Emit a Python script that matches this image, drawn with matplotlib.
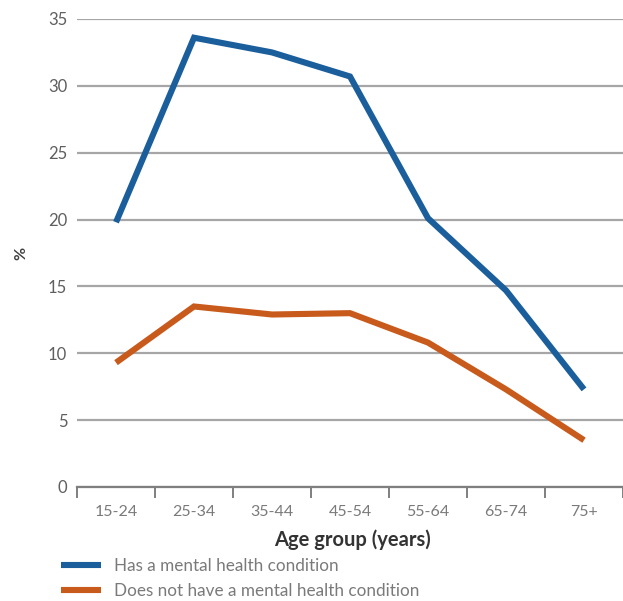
import numpy as np
import matplotlib.pyplot as plt

plt.rcParams['font.family'] = ['Lato', 'DejaVu Sans']

age_groups = ['15-24', '25-34', '35-44', '45-54', '55-64', '65-74', '75+']
has_condition = [19.8, 33.6, 32.5, 30.7, 20.1, 14.7, 7.3]
no_condition = [9.3, 13.5, 12.9, 13.0, 10.8, 7.3, 3.5]

blue = '#1b5e9c'
orange = '#c85a1c'

fig = plt.figure(figsize=(6.23, 6.01), dpi=100)
ax = fig.add_axes([0.1236, 0.1897, 0.8764, 0.7787])

x = np.arange(len(age_groups))
ax.plot(x, has_condition, color=blue, lw=4.4, solid_joinstyle='miter', solid_capstyle='butt',
        label='Has a mental health condition', zorder=3)
ax.plot(x, no_condition, color=orange, lw=4.4, solid_joinstyle='miter', solid_capstyle='butt',
        label='Does not have a mental health condition', zorder=3)

ax.set_ylim(0, 35)
ax.set_xlim(-0.5, 6.405)
ax.set_yticks(np.arange(0, 36, 5))
ax.yaxis.grid(True, color='#a6a6a6', lw=1.6)
ax.set_axisbelow(True)

ax.set_xticks(x)
ax.set_xticklabels(age_groups)
ax.set_xticks(np.arange(-0.5, 7, 1), minor=True)
ax.tick_params(axis='x', which='major', length=0, pad=13, labelsize=11.5, labelcolor='#7a7a7a')
ax.tick_params(axis='x', which='minor', length=8, width=1.4, color='#7f7f7f', direction='out')
ax.tick_params(axis='y', length=0, pad=7, labelsize=12, labelcolor='#5f5f5f')

for side in ['top', 'right', 'left']:
    ax.spines[side].set_visible(False)
ax.spines['bottom'].set_color('#7f7f7f')
ax.spines['bottom'].set_linewidth(1.6)

ax.set_xlabel('Age group (years)', fontsize=14.5, fontweight='bold', color='#333333')
ax.xaxis.set_label_coords(0.505, -0.09)
ax.set_ylabel('%', fontsize=11.5, fontweight='bold', color='#404040', labelpad=14)

fig.legend(loc='upper left', bbox_to_anchor=(0.085, 0.085), frameon=False, fontsize=12.3,
           handlelength=2.3, handletextpad=0.75, labelspacing=0.5, borderpad=0,
           labelcolor='#7a7a7a')

fig.savefig('out.png', dpi=100)
